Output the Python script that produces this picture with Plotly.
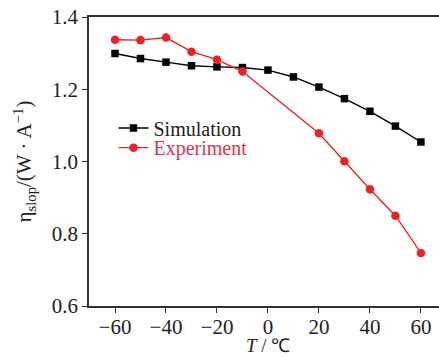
import plotly.graph_objects as go

sim_T = [-60, -50, -40, -30, -20, -10, 0, 10, 20, 30, 40, 50, 60]
sim_eta = [1.299, 1.285, 1.275, 1.265, 1.262, 1.260, 1.253, 1.234, 1.206, 1.174, 1.139, 1.098, 1.054]
exp_T = [-60, -50, -40, -30, -20, -10, 20, 30, 40, 50, 60]
exp_eta = [1.337, 1.336, 1.343, 1.304, 1.282, 1.249, 1.078, 1.001, 0.923, 0.850, 0.747]
x_ticks = [-60, -40, -20, 0, 20, 40, 60]
x_labels = ["\u221260", "\u221240", "\u221220", "0", "20", "40", "60"]
y_ticks = [0.6, 0.8, 1.0, 1.2, 1.4]

FONT = "Liberation Serif"
fig = go.Figure()
fig.add_trace(go.Scatter(x=sim_T, y=sim_eta, mode="lines+markers", name="Simulation",
                         line=dict(color="black", width=1.4),
                         marker=dict(symbol="square", size=7.5, color="black"),
                         legend="legend"))
fig.add_trace(go.Scatter(x=exp_T, y=exp_eta, mode="lines+markers",
                         name="Experiment",
                         line=dict(color="#ee2222", width=1.4),
                         marker=dict(symbol="circle", size=8.5, color="#ee2222"),
                         legend="legend2"))
leg = dict(xanchor="left", yanchor="middle", bgcolor="rgba(0,0,0,0)", itemwidth=30,
           borderwidth=0)
fig.update_layout(
    width=439, height=357,
    margin=dict(l=89, r=0, t=17, b=51),
    paper_bgcolor="white", plot_bgcolor="white",
    font=dict(family=FONT, size=20, color="#222"),
    showlegend=True,
    legend=dict(x=0.07, y=0.616, font=dict(family=FONT, size=20, color="#222"), **leg),
    legend2=dict(x=0.07, y=0.548, font=dict(family=FONT, size=20, color="#e0334d"), **leg),
    xaxis=dict(range=[-70.2, 67.1], tickvals=x_ticks, ticktext=x_labels, automargin=False,
               showgrid=False, zeroline=False, showline=True, linecolor="#333", linewidth=1.5,
               mirror=True, ticks="outside", ticklen=5, tickcolor="#333",
               tickfont=dict(family=FONT, size=21), ticklabelstandoff=-4),
    yaxis=dict(range=[0.6, 1.4], tickvals=y_ticks, tickformat=".1f", automargin=False,
               showgrid=False, zeroline=False, showline=True, linecolor="#333", linewidth=1.5,
               ticks="outside", ticklen=5, tickcolor="#333",
               tickfont=dict(family=FONT, size=21),
               title=dict(text="\u03b7<sub>slop</sub>/(W \u00b7 A<sup>\u22121</sup>)",
                          font=dict(family=FONT, size=21), standoff=14)),
)
fig.add_annotation(text="<i>T</i> / \u2103", xref="x", yref="paper", x=0, y=-0.138,
                   yanchor="middle", showarrow=False, font=dict(family=FONT, size=19, color="#222"))
fig.write_html("out.html")
